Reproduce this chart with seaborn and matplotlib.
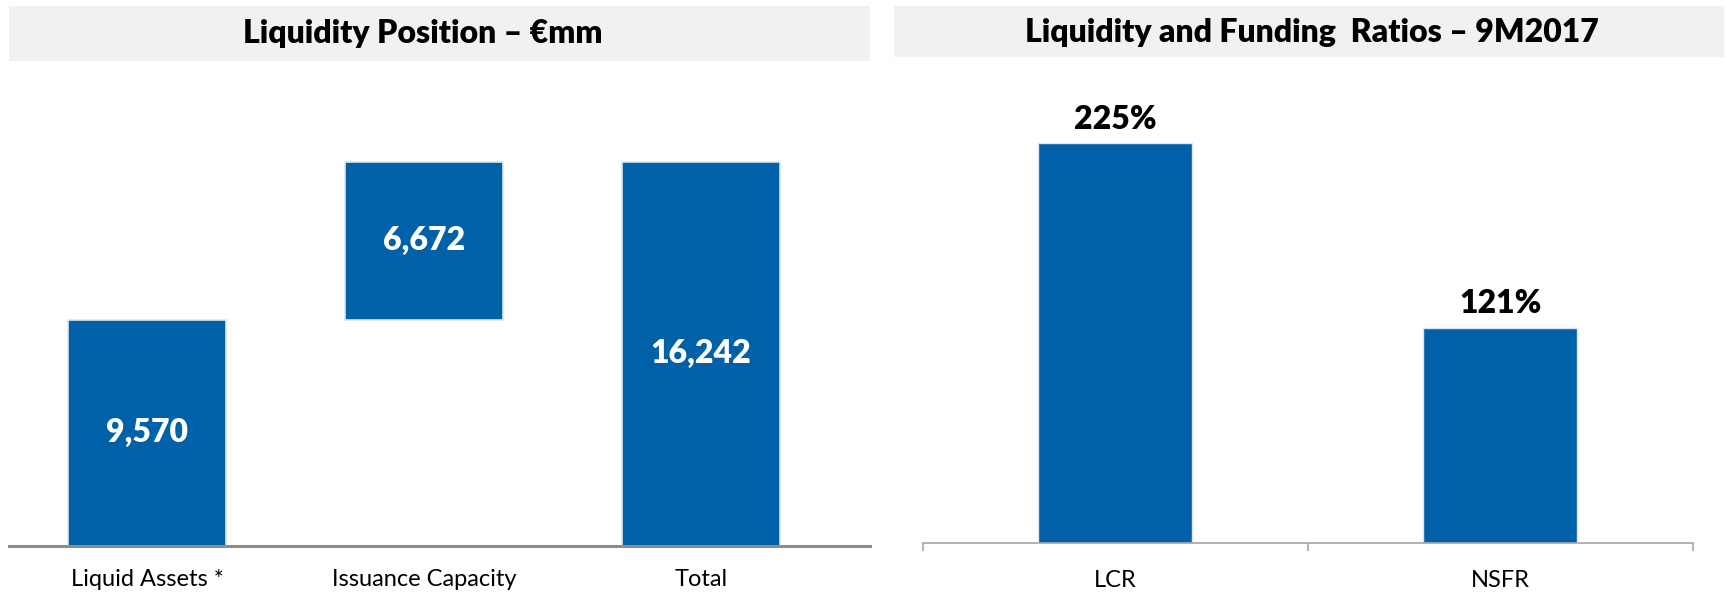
import matplotlib
matplotlib.use("Agg")
import matplotlib.pyplot as plt
from matplotlib.patches import Rectangle
import seaborn as sns

# data
pos_cats = ["Liquid Assets *", "Issuance Capacity", "Total"]
pos_vals = [9570, 6672, 16242]
pos_base = [0, 9570, 0]
pos_labels = ["9,570", "6,672", "16,242"]

ratio_cats = ["LCR", "NSFR"]
ratio_vals = [225, 121]
ratio_labels = ["225%", "121%"]

blue = "#0061A8"
edge = "#dce6f0"

sns.set_theme(style="white")
plt.rcParams["font.family"] = ["Lato", "DejaVu Sans"]

fig = plt.figure(figsize=(17.27, 5.94), dpi=100)

# title boxes
fig.patches.append(Rectangle((0.0051, 0.898), 0.4987, 0.0927, transform=fig.transFigure,
                             facecolor="#f1f1f1", edgecolor="none", zorder=0))
fig.patches.append(Rectangle((0.5179, 0.9035), 0.4802, 0.0872, transform=fig.transFigure,
                             facecolor="#f1f1f1", edgecolor="none", zorder=0))
fig.text(0.2449, 0.944, "Liquidity Position – €mm", ha="center", va="center",
         fontsize=23, fontweight="heavy", color="black")
fig.text(0.7596, 0.946, "Liquidity and Funding  Ratios – 9M2017", ha="center", va="center",
         fontsize=23, fontweight="heavy", color="black")

# --- left: waterfall ---
ax1 = fig.add_axes([0.0051, 0.0816, 0.4987, 0.807])
sns.barplot(x=pos_cats, y=pos_vals, bottom=pos_base, color=blue, width=0.569,
            edgecolor=edge, linewidth=1.2, saturation=1, ax=ax1)
for i, (v, b, lab) in enumerate(zip(pos_vals, pos_base, pos_labels)):
    ax1.text(i, b + v / 2, lab, ha="center", va="center", color="white",
             fontsize=23, fontweight="heavy")
ax1.set_xlim(-0.499, 2.61)
ax1.set_ylim(0, 20300)
ax1.set_yticks([])
ax1.set_ylabel("")
for s in ["top", "right", "left"]:
    ax1.spines[s].set_visible(False)
ax1.spines["bottom"].set_color("#8c8c8c")
ax1.spines["bottom"].set_linewidth(2.2)
ax1.tick_params(axis="x", length=0, pad=17, labelsize=17, labelcolor="black")

# --- right: ratios ---
ax2 = fig.add_axes([0.5344, 0.0853, 0.4458, 0.8034])
sns.barplot(x=ratio_cats, y=ratio_vals, color=blue, width=0.4, saturation=1,
            edgecolor=edge, linewidth=1.0, ax=ax2)
ax2.bar_label(ax2.containers[0], labels=ratio_labels, padding=7,
              fontsize=23, fontweight="heavy", color="black")
ax2.set_xlim(-0.5, 1.5)
ax2.set_ylim(0, 268.4)
ax2.set_yticks([])
ax2.set_ylabel("")
for s in ["top", "right", "left"]:
    ax2.spines[s].set_visible(False)
ax2.spines["bottom"].set_color("#a6a6a6")
ax2.spines["bottom"].set_linewidth(1.2)
ax2.set_xticks([-0.5, 0.5, 1.5], minor=False)
ax2.set_xticklabels([])
ax2.set_xticks([0, 1], minor=True)
ax2.set_xticklabels(ratio_cats, minor=True)
ax2.tick_params(axis="x", which="major", direction="out", length=6, width=1.2,
                color="#a6a6a6", bottom=True)
ax2.tick_params(axis="x", which="minor", length=0, pad=19, labelsize=17, labelcolor="black")

fig.savefig("out.png", dpi=100)
